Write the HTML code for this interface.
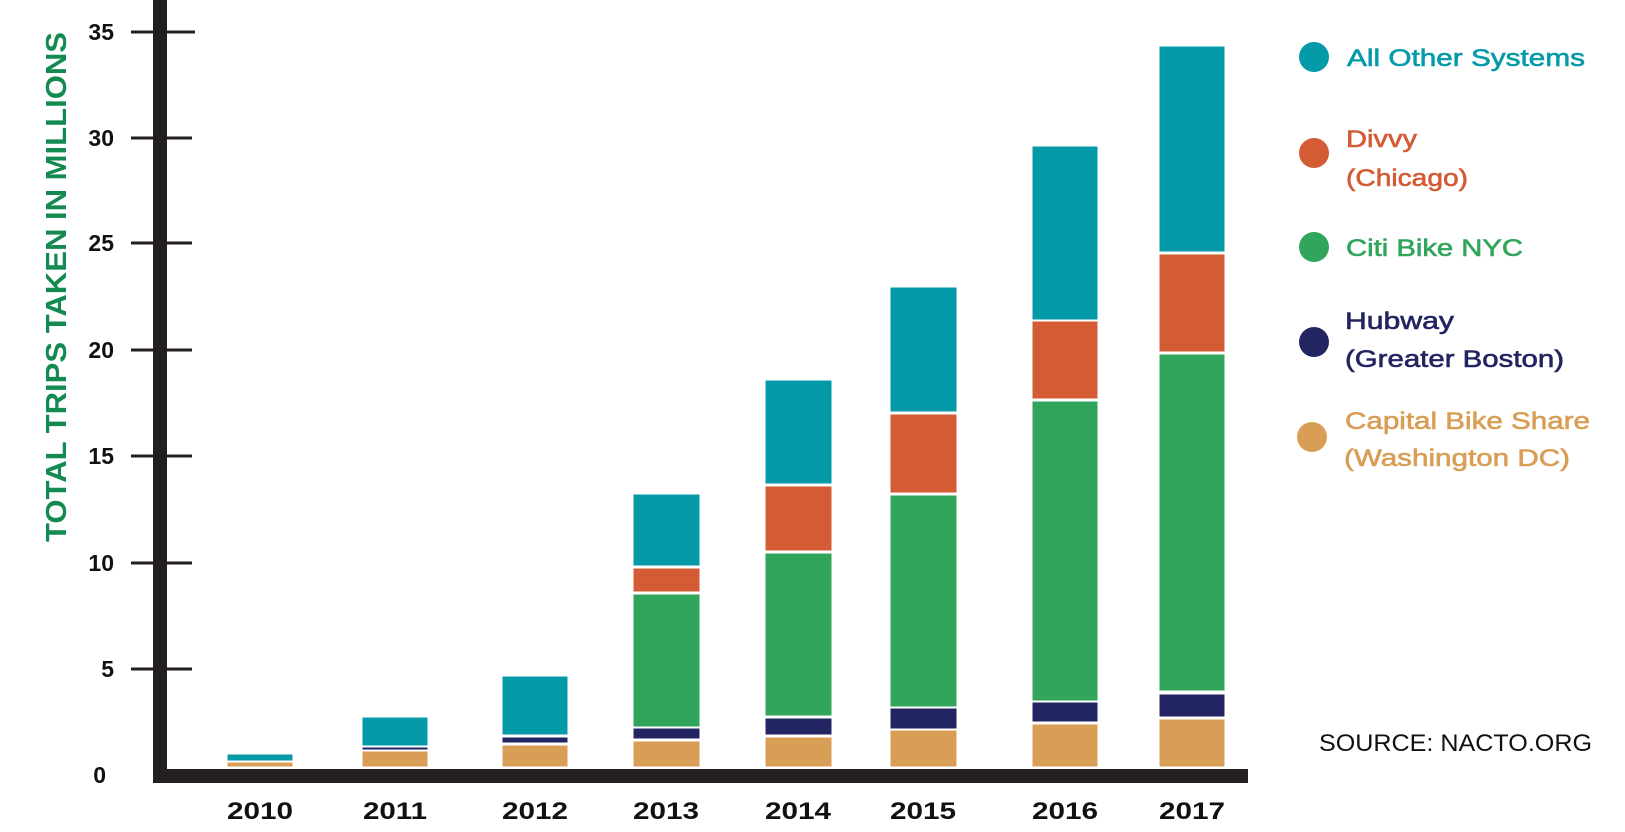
<!DOCTYPE html>
<html><head><meta charset="utf-8"><style>
html,body{margin:0;padding:0;background:#fff;}
svg{display:block;}
text{font-family:"Liberation Sans",sans-serif;}
</style></head><body>
<svg width="1625" height="832" viewBox="0 0 1625 832" xmlns="http://www.w3.org/2000/svg">
<rect width="1625" height="832" fill="#fff"/>
<text transform="translate(66,287) rotate(-90)" text-anchor="middle" font-size="29" font-weight="bold" fill="#138a50" textLength="510" lengthAdjust="spacingAndGlyphs">TOTAL TRIPS TAKEN IN MILLIONS</text>
<g stroke="#231f20" stroke-width="3">
<line x1="131" y1="32" x2="195" y2="32"/>
<line x1="131" y1="138" x2="192" y2="138"/>
<line x1="131" y1="243" x2="192" y2="243"/>
<line x1="131" y1="350" x2="192" y2="350"/>
<line x1="131" y1="456" x2="192" y2="456"/>
<line x1="131" y1="563" x2="192" y2="563"/>
<line x1="131" y1="669" x2="192" y2="669"/>
</g>
<g font-size="23" font-weight="bold" fill="#111" text-anchor="end">
<text x="114" y="40">35</text>
<text x="114" y="146">30</text>
<text x="114" y="251">25</text>
<text x="114" y="358">20</text>
<text x="114" y="464">15</text>
<text x="114" y="571">10</text>
<text x="114" y="677">5</text>
<text x="106" y="783">0</text>
</g>
<rect x="153" y="0" width="14" height="783" fill="#231f20"/>
<rect x="153" y="769" width="1095" height="14" fill="#231f20"/>
<g stroke="#fff" stroke-width="1">
<rect x="227" y="754" width="66" height="7" fill="#049aa8"/>
<rect x="227" y="762" width="66" height="5" fill="#d99e55"/>
<rect x="362" y="717" width="66" height="29" fill="#049aa8"/>
<rect x="362" y="747" width="66" height="3" fill="#222561"/>
<rect x="362" y="751" width="66" height="16" fill="#d99e55"/>
<rect x="502" y="676" width="66" height="59" fill="#049aa8"/>
<rect x="502" y="737" width="66" height="6" fill="#222561"/>
<rect x="502" y="745" width="66" height="22" fill="#d99e55"/>
<rect x="633" y="494" width="67" height="72" fill="#049aa8"/>
<rect x="633" y="568" width="67" height="24" fill="#d35c34"/>
<rect x="633" y="594" width="67" height="133" fill="#30a55b"/>
<rect x="633" y="728" width="67" height="11" fill="#222561"/>
<rect x="633" y="741" width="67" height="26" fill="#d99e55"/>
<rect x="765" y="380" width="67" height="104" fill="#049aa8"/>
<rect x="765" y="486" width="67" height="65" fill="#d35c34"/>
<rect x="765" y="553" width="67" height="163" fill="#30a55b"/>
<rect x="765" y="718" width="67" height="17" fill="#222561"/>
<rect x="765" y="737" width="67" height="30" fill="#d99e55"/>
<rect x="890" y="287" width="67" height="125" fill="#049aa8"/>
<rect x="890" y="414" width="67" height="79" fill="#d35c34"/>
<rect x="890" y="495" width="67" height="212" fill="#30a55b"/>
<rect x="890" y="708" width="67" height="21" fill="#222561"/>
<rect x="890" y="730" width="67" height="37" fill="#d99e55"/>
<rect x="1032" y="146" width="66" height="174" fill="#049aa8"/>
<rect x="1032" y="321" width="66" height="78" fill="#d35c34"/>
<rect x="1032" y="401" width="66" height="300" fill="#30a55b"/>
<rect x="1032" y="702" width="66" height="20" fill="#222561"/>
<rect x="1032" y="724" width="66" height="43" fill="#d99e55"/>
<rect x="1159" y="46" width="66" height="206" fill="#049aa8"/>
<rect x="1159" y="254" width="66" height="98" fill="#d35c34"/>
<rect x="1159" y="354" width="66" height="337" fill="#30a55b"/>
<rect x="1159" y="694" width="66" height="23" fill="#222561"/>
<rect x="1159" y="719" width="66" height="48" fill="#d99e55"/>
</g>
<g font-size="24" font-weight="bold" fill="#111" text-anchor="middle">
<text x="260" y="819" textLength="66" lengthAdjust="spacingAndGlyphs">2010</text>
<text x="395" y="819" textLength="64" lengthAdjust="spacingAndGlyphs">2011</text>
<text x="535" y="819" textLength="66" lengthAdjust="spacingAndGlyphs">2012</text>
<text x="666" y="819" textLength="66" lengthAdjust="spacingAndGlyphs">2013</text>
<text x="798" y="819" textLength="66" lengthAdjust="spacingAndGlyphs">2014</text>
<text x="923" y="819" textLength="66" lengthAdjust="spacingAndGlyphs">2015</text>
<text x="1065" y="819" textLength="66" lengthAdjust="spacingAndGlyphs">2016</text>
<text x="1192" y="819" textLength="66" lengthAdjust="spacingAndGlyphs">2017</text>
</g>
<circle cx="1314" cy="57" r="15" fill="#049aa8"/>
<circle cx="1314" cy="153" r="15" fill="#d35c34"/>
<circle cx="1314" cy="247" r="15" fill="#30a55b"/>
<circle cx="1314" cy="342" r="15" fill="#222561"/>
<circle cx="1312" cy="437" r="15" fill="#d99e55"/>
<g font-size="24" stroke-width="0.6">
<text x="1347" y="66" fill="#049aa8" stroke="#049aa8" textLength="238" lengthAdjust="spacingAndGlyphs">All Other Systems</text>
<text x="1346" y="147" fill="#d35c34" stroke="#d35c34" textLength="71" lengthAdjust="spacingAndGlyphs">Divvy</text>
<text x="1346" y="186" fill="#d35c34" stroke="#d35c34" textLength="122" lengthAdjust="spacingAndGlyphs">(Chicago)</text>
<text x="1346" y="256" fill="#30a55b" stroke="#30a55b" textLength="177" lengthAdjust="spacingAndGlyphs">Citi Bike NYC</text>
<text x="1345" y="329" fill="#222561" stroke="#222561" textLength="109" lengthAdjust="spacingAndGlyphs">Hubway</text>
<text x="1345" y="367" fill="#222561" stroke="#222561" textLength="219" lengthAdjust="spacingAndGlyphs">(Greater Boston)</text>
<text x="1345" y="429" fill="#d99e55" stroke="#d99e55" textLength="245" lengthAdjust="spacingAndGlyphs">Capital Bike Share</text>
<text x="1344" y="466" fill="#d99e55" stroke="#d99e55" textLength="226" lengthAdjust="spacingAndGlyphs">(Washington DC)</text>
<text x="1319" y="751" fill="#111" textLength="273" lengthAdjust="spacingAndGlyphs">SOURCE: NACTO.ORG</text>
</g>
</svg>
</body></html>
